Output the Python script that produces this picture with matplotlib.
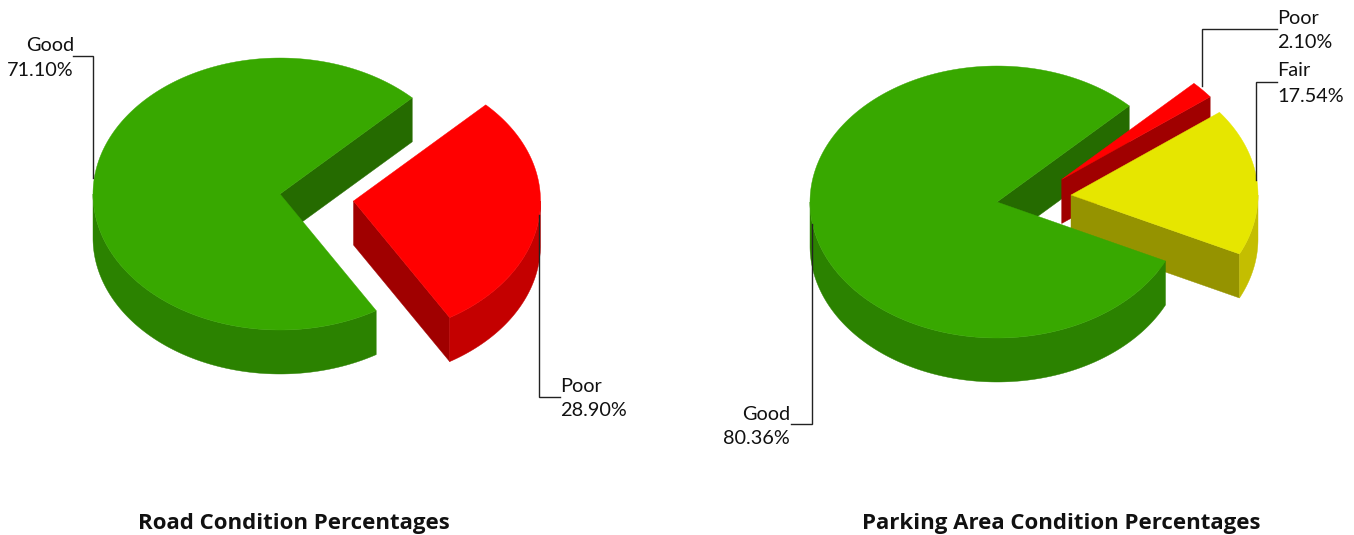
#!/usr/bin/env python3
"""Two exploded 3D-look pies: road and parking area condition shares."""

import numpy as np
import matplotlib

matplotlib.use("Agg")
import matplotlib.pyplot as plt
from matplotlib.patches import Polygon

road_labels = ["Good", "Poor"]
road_values = [71.10, 28.90]
parking_labels = ["Good", "Fair", "Poor"]
parking_values = [80.36, 17.54, 2.10]
road_title = "Road Condition Percentages"
parking_title = "Parking Area Condition Percentages"

# slice colours: top, cut wall, outer rim
STYLE = {
    "Good": ("#38A800", "#256B00", "#2B8200"),
    "Poor": ("#FF0000", "#A00000", "#C40000"),
    "Fair": ("#E6E600", "#959300", "#C4BE00"),
}
START = 45.0
RX, RY, DEPTH = 187.0, 136.0, 44.0
LABEL_SIZE = 14.3
TITLE_SIZE = 16.0

plt.rcParams["font.family"] = ["Lato", "DejaVu Sans"]


def arc(cx, cy, t1, t2):
    t = np.radians(np.linspace(t1, t2, 200))
    return np.column_stack([cx + RX * np.cos(t), cy - RY * np.sin(t)])


def shapes(cx, cy, t1, t2, color):
    top, wall, rim = color
    walls = []
    # a cut face only shows when it turns towards the viewer
    if np.cos(np.radians(t1)) > 0:
        p = arc(cx, cy, t1, t1)[0]
        walls.append(([(cx, cy), p, (p[0], p[1] + DEPTH), (cx, cy + DEPTH)], wall))
    if np.cos(np.radians(t2)) < 0:
        p = arc(cx, cy, t2, t2)[0]
        walls.append(([(cx, cy), p, (p[0], p[1] + DEPTH), (cx, cy + DEPTH)], wall))
    rims = []
    for k in (-1, 0, 1, 2):
        a, b = max(t1, 180 + 360 * k), min(t2, 360 + 360 * k)
        if b > a:
            front = arc(cx, cy, a, b)
            low = front[::-1] + [0, DEPTH]
            rims.append((np.vstack([front, low]), rim))
    face = np.vstack([[(cx, cy)], arc(cx, cy, t1, t2)])
    return walls, rims, (face, top)


def add(ax, verts, color):
    ax.add_patch(Polygon(verts, closed=True, facecolor=color, edgecolor=color, lw=0.3))


def draw_pie(ax, labels, values, centers):
    angles = START + np.concatenate([[0], np.cumsum(values)]) * 3.6
    parts = []
    for i, name in enumerate(labels):
        cx, cy = centers[i]
        parts.append(shapes(cx, cy, angles[i], angles[i + 1], STYLE[name]))
    # first slice cut wall goes behind everything, its top goes last
    for verts, c in parts[0][0]:
        add(ax, verts, c)
    for walls, rims, face in parts[:0:-1]:
        for verts, c in walls + rims:
            add(ax, verts, c)
        add(ax, *face)
    for verts, c in parts[0][1]:
        add(ax, verts, c)
    add(ax, *parts[0][2])


def callout(ax, path, label, value, x, y1, y2, ha):
    xs, ys = zip(*path)
    ax.plot(xs, ys, color="#222222", lw=1.0, solid_joinstyle="miter", zorder=5)
    ax.text(x, y1, label, ha=ha, va="center", fontsize=LABEL_SIZE, color="#111111")
    ax.text(x, y2, f"{value:.2f}%", ha=ha, va="center", fontsize=LABEL_SIZE, color="#111111")


fig = plt.figure(figsize=(13.54, 5.35), dpi=100)
ax = fig.add_axes([0, 0, 1, 1])
ax.set_xlim(0, 1354)
ax.set_ylim(535, 0)
ax.axis("off")

draw_pie(ax, road_labels, road_values, [(280, 194), (353.5, 201)])
draw_pie(ax, parking_labels, parking_values, [(997, 202), (1071, 195), (1061.7, 179.5)])

callout(ax, [(93, 178), (93, 56), (73, 56)], road_labels[0], road_values[0], 74, 45.5, 70, "right")
callout(ax, [(539, 215), (539, 397), (560, 397)], road_labels[1], road_values[1], 560, 387, 411, "left")
callout(ax, [(812.3, 224), (812.3, 424), (791, 424)], parking_labels[0], parking_values[0], 790, 414.5, 438, "right")
callout(ax, [(1256.3, 180), (1256.3, 82.3), (1277, 82.3)], parking_labels[1], parking_values[1], 1277, 71, 96, "left")
callout(ax, [(1201.7, 86), (1201.7, 29), (1277, 29)], parking_labels[2], parking_values[2], 1277, 18.5, 43, "left")

for x, title in [(293.5, road_title), (1061.5, parking_title)]:
    ax.text(x, 523, title, ha="center", va="center", fontsize=TITLE_SIZE,
            fontweight="bold", family=["Open Sans", "DejaVu Sans"], color="#111111")

fig.savefig("out.png", dpi=100)
